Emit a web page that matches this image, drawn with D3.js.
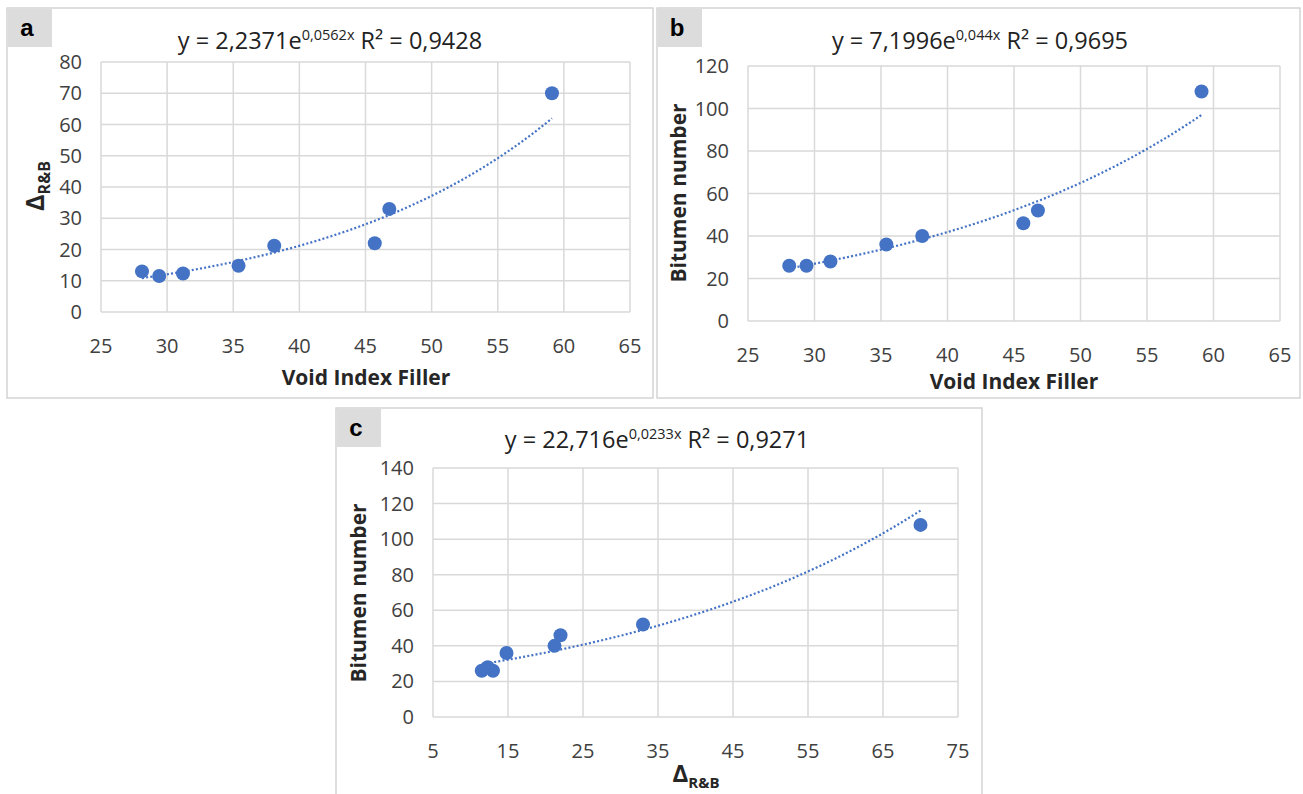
<!DOCTYPE html>
<html>
<head>
<meta charset="utf-8">
<script src="https://d3js.org/d3.v7.min.js"></script>
<style>
  body { margin: 0; background: #fff; }
  text { font-family: "Open Sans", sans-serif; }
</style>
</head>
<body>
<div id="my_dataviz"></div>
<script>

// measured samples (same 8 mixtures in each panel)
var voidIndexFiller = [28.1, 29.4, 31.2, 35.4, 38.1, 45.7, 46.8, 59.1];
var deltaRB        = [13.0, 11.5, 12.3, 14.8, 21.2, 22.0, 33.0, 70.0];
var bitumenNumber  = [26, 26, 28, 36, 40, 46, 52, 108];

// tick labels
var xTicksVIF   = [25, 30, 35, 40, 45, 50, 55, 60, 65];
var yTicksDelta = [0, 10, 20, 30, 40, 50, 60, 70, 80];
var yTicksBN120 = [0, 20, 40, 60, 80, 100, 120];
var xTicksDelta = [5, 15, 25, 35, 45, 55, 65, 75];
var yTicksBN140 = [0, 20, 40, 60, 80, 100, 120, 140];

// exponential trendlines  y = a * e^(b x)
var fitCoefA = [2.2371, 0.0562], fitTextA = ["2,2371", "0,0562x", "0,9428"];
var fitCoefB = [7.1996, 0.044],  fitTextB = ["7,1996", "0,044x", "0,9695"];
var fitCoefC = [22.716, 0.0233], fitTextC = ["22,716", "0,0233x", "0,9271"];

var blue = "#4472c4";

var svg = d3.select("#my_dataviz")
  .append("svg")
    .attr("width", 1303)
    .attr("height", 794);

function drawPanel(p) {
  var g = svg.append("g");

  // frame + letter box
  g.append("rect")
    .attr("x", p.frame[0]).attr("y", p.frame[1])
    .attr("width", p.frame[2]).attr("height", p.frame[3])
    .attr("fill", "#fff").attr("stroke", "#d4d4d4").attr("stroke-width", 1.5);
  g.append("rect")
    .attr("x", p.frame[0] + 1).attr("y", p.frame[1] + 1)
    .attr("width", 44).attr("height", 38)
    .attr("fill", "#dcdcdc");
  g.append("text")
    .attr("x", p.frame[0] + 20).attr("y", p.frame[1] + 28)
    .attr("text-anchor", "middle")
    .style("font-family", "Liberation Sans, Arial, sans-serif")
    .style("font-weight", "bold").style("font-size", "24px")
    .text(p.letter);

  var x = d3.scaleLinear().domain(d3.extent(p.xTicks)).range([p.plot[0], p.plot[1]]);
  var y = d3.scaleLinear().domain(d3.extent(p.yTicks)).range([p.plot[3], p.plot[2]]);

  // gridlines
  g.append("g").selectAll("line").data(p.xTicks).enter().append("line")
    .attr("x1", function(d) { return x(d); }).attr("x2", function(d) { return x(d); })
    .attr("y1", p.plot[2]).attr("y2", p.plot[3])
    .attr("stroke", "#d9d9d9").attr("stroke-width", 1.5);
  g.append("g").selectAll("line").data(p.yTicks).enter().append("line")
    .attr("y1", function(d) { return y(d); }).attr("y2", function(d) { return y(d); })
    .attr("x1", p.plot[0]).attr("x2", p.plot[1])
    .attr("stroke", "#d9d9d9").attr("stroke-width", 1.5);

  // tick labels
  g.append("g").selectAll("text").data(p.xTicks).enter().append("text")
    .attr("x", function(d) { return x(d); })
    .attr("y", p.plot[3] + 41)
    .attr("text-anchor", "middle")
    .style("font-size", "20px").style("fill", "#404040")
    .text(function(d) { return d; });
  g.append("g").selectAll("text").data(p.yTicks).enter().append("text")
    .attr("x", p.plot[0] - 19)
    .attr("y", function(d) { return y(d) + 7; })
    .attr("text-anchor", "end")
    .style("font-size", "20px").style("fill", "#404040")
    .text(function(d) { return d; });

  // trendline
  var x0 = d3.min(p.xs), x1 = d3.max(p.xs);
  var curve = d3.range(0, 61).map(function(i) {
    var xv = x0 + (x1 - x0) * i / 60;
    return [xv, p.fit[0] * Math.exp(p.fit[1] * xv)];
  });
  g.append("path")
    .datum(curve)
    .attr("fill", "none")
    .attr("stroke", blue)
    .attr("stroke-width", 2.2)
    .attr("stroke-dasharray", "2,2.2")
    .attr("d", d3.line().x(function(d) { return x(d[0]); }).y(function(d) { return y(d[1]); }));

  // points
  g.append("g").selectAll("circle").data(p.xs).enter().append("circle")
    .attr("cx", function(d) { return x(d); })
    .attr("cy", function(d, i) { return y(p.ys[i]); })
    .attr("r", 7)
    .style("fill", blue);

  // equation title
  var t = g.append("text")
    .attr("x", p.titleX).attr("y", p.titleY)
    .attr("text-anchor", "middle")
    .style("font-size", "23.5px").style("fill", "#222");
  t.append("tspan").text("y = " + p.fitText[0] + "e");
  t.append("tspan").attr("dy", -9).style("font-size", "14.5px").text(p.fitText[1]);
  t.append("tspan").attr("dy", 9).text(" R² = " + p.fitText[2]);

  // axis titles
  var xt = g.append("text")
    .attr("x", p.xTitle[0]).attr("y", p.xTitle[1])
    .attr("text-anchor", "middle")
    .style("font-size", "21px").style("font-weight", "bold").style("fill", "#262626");
  if (p.xLabel === "delta") {
    xt.append("tspan").style("font-size", "24px").text("Δ");
    xt.append("tspan").attr("dy", 6).style("font-size", "15px").text("R&B");
  } else {
    xt.text(p.xLabel);
  }

  var yt = g.append("text")
    .attr("transform", "translate(" + p.yTitle[0] + "," + p.yTitle[1] + ") rotate(-90)")
    .attr("text-anchor", "middle")
    .style("font-size", "21px").style("font-weight", "bold").style("fill", "#262626");
  if (p.yLabel === "delta") {
    yt.append("tspan").style("font-size", "25px").text("Δ");
    yt.append("tspan").attr("dy", 6).style("font-size", "16px").text("R&B");
  } else {
    yt.text(p.yLabel);
  }
}

drawPanel({
  letter: "a", frame: [7, 8, 646, 390], plot: [101, 630, 62, 312],
  xs: voidIndexFiller, ys: deltaRB, xTicks: xTicksVIF, yTicks: yTicksDelta,
  fit: fitCoefA, fitText: fitTextA, titleX: 330, titleY: 49,
  xLabel: "Void Index Filler", xTitle: [366, 385],
  yLabel: "delta", yTitle: [44, 186]
});

drawPanel({
  letter: "b", frame: [657, 8, 643, 390], plot: [748, 1280, 66, 321],
  xs: voidIndexFiller, ys: bitumenNumber, xTicks: xTicksVIF, yTicks: yTicksBN120,
  fit: fitCoefB, fitText: fitTextB, titleX: 980, titleY: 49,
  xLabel: "Void Index Filler", xTitle: [1014, 389],
  yLabel: "Bitumen number", yTitle: [686, 193]
});

drawPanel({
  letter: "c", frame: [336, 408, 646, 400], plot: [433, 958, 468, 717],
  xs: deltaRB, ys: bitumenNumber, xTicks: xTicksDelta, yTicks: yTicksBN140,
  fit: fitCoefC, fitText: fitTextC, titleX: 657, titleY: 448,
  xLabel: "delta", xTitle: [696, 782],
  yLabel: "Bitumen number", yTitle: [366, 593]
});

</script>
</body>
</html>
